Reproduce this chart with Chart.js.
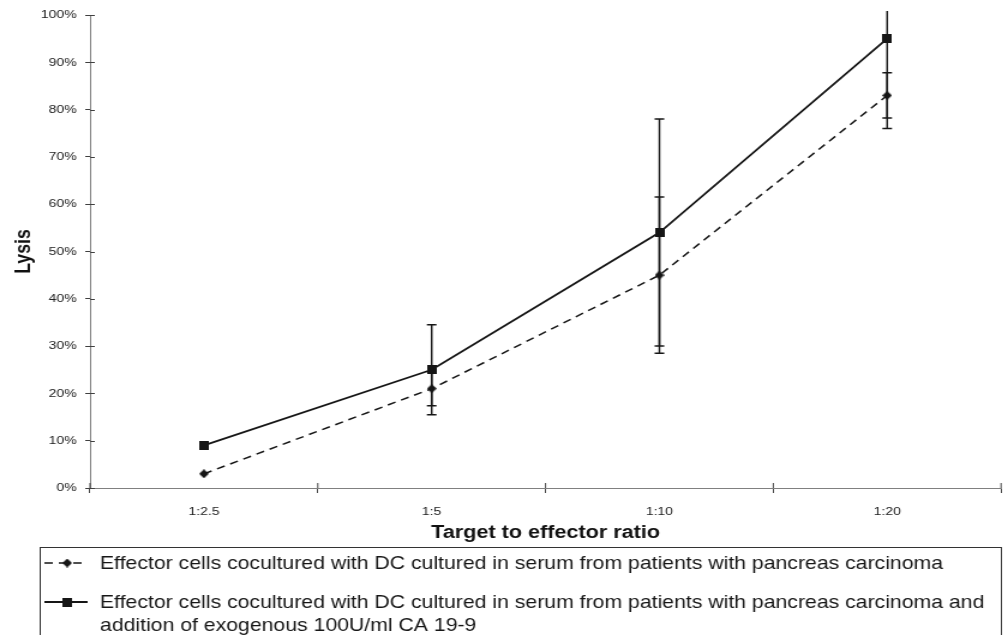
<!DOCTYPE html>
<html>
<head>
<meta charset="utf-8">
<script src="https://cdn.jsdelivr.net/npm/chart.js@4.4.1/dist/chart.umd.min.js"></script>
<style>
  html, body { margin: 0; padding: 0; background: #fff; overflow: hidden; }
  /* the figure is drawn narrow and widened, like the printed original */
  #wrap { width: 840px; height: 635px; transform: scaleX(1.2); transform-origin: 0 0; }
</style>
</head>
<body>
<div id="wrap"><canvas id="lysisChart" width="840" height="635"></canvas></div>
<script>
const ratios = ['1:2.5', '1:5', '1:10', '1:20'];

const serumLysis = [3, 21, 45, 83];
const serumErr = [0, 3.6, 16.5, 4.8];

const ca199Lysis = [9, 25, 54, 95];
const ca199Err = [0, 9.5, 24, 19];

const yTicks = [0, 10, 20, 30, 40, 50, 60, 70, 80, 90, 100];

const serumLabel = 'Effector cells cocultured with DC cultured in serum from patients with pancreas carcinoma';
const ca199Label = 'Effector cells cocultured with DC cultured in serum from patients with pancreas carcinoma and addition of exogenous 100U/ml CA 19-9';

const FONT = '"Liberation Sans", Arial, sans-serif';
const INK = '#161616';

function makeMarker(w, h, draw) {
  const c = document.createElement('canvas');
  c.width = w;
  c.height = h;
  const g = c.getContext('2d');
  g.fillStyle = INK;
  draw(g, w, h);
  return c;
}

const squareMark = makeMarker(8, 9, (g, w, h) => g.fillRect(0, 0, w, h));

const diamondMark = makeMarker(8, 9, (g, w, h) => {
  g.beginPath();
  g.moveTo(w / 2, 0);
  g.lineTo(w, h / 2);
  g.lineTo(w / 2, h);
  g.lineTo(0, h / 2);
  g.closePath();
  g.fill();
});

function wrapText(ctx, text, maxWidth) {
  const words = text.split(' ');
  const lines = [];
  let line = '';
  words.forEach(w => {
    const test = line ? line + ' ' + w : w;
    if (ctx.measureText(test).width > maxWidth && line) {
      lines.push(line);
      line = w;
    } else {
      line = test;
    }
  });
  if (line) lines.push(line);
  return lines;
}

// vertical error bars, cut a little above the plot top
const errorBars = {
  id: 'errorBars',
  afterDatasetsDraw(chart) {
    const {ctx, chartArea, scales: {y}} = chart;
    ctx.save();
    ctx.beginPath();
    ctx.rect(chartArea.left, chartArea.top - 4, chartArea.width, chartArea.height + 4);
    ctx.clip();
    ctx.strokeStyle = INK;
    ctx.lineWidth = 1.5;
    chart.data.datasets.forEach((ds, i) => {
      chart.getDatasetMeta(i).data.forEach((pt, j) => {
        const e = ds.errors[j];
        if (!e) return;
        const top = y.getPixelForValue(ds.data[j] + e);
        const bot = y.getPixelForValue(ds.data[j] - e);
        ctx.beginPath();
        ctx.moveTo(pt.x, top);
        ctx.lineTo(pt.x, bot);
        ctx.moveTo(pt.x - 4, top);
        ctx.lineTo(pt.x + 4, top);
        ctx.moveTo(pt.x - 4, bot);
        ctx.lineTo(pt.x + 4, bot);
        ctx.stroke();
      });
    });
    ctx.restore();
  }
};

// tick marks that cross the axis lines
const innerTicks = {
  id: 'innerTicks',
  beforeDatasetsDraw(chart) {
    const {ctx, chartArea, scales: {x, y}} = chart;
    ctx.save();
    ctx.strokeStyle = '#404040';
    ctx.lineWidth = 1;
    ctx.beginPath();
    y.ticks.forEach(t => {
      const py = Math.round(y.getPixelForValue(t.value)) + 0.5;
      ctx.moveTo(chartArea.left, py);
      ctx.lineTo(chartArea.left + 4, py);
    });
    for (let i = 0; i <= ratios.length; i++) {
      const px = x.getPixelForValue(i - 0.5);
      ctx.moveTo(px, chartArea.bottom);
      ctx.lineTo(px, chartArea.bottom - 5);
    }
    ctx.stroke();
    ctx.restore();
  }
};

// boxed legend under the axis title
const boxLegend = {
  id: 'boxLegend',
  afterDraw(chart) {
    const ctx = chart.ctx;
    const baselines = [569, 608];
    ctx.save();
    ctx.strokeStyle = '#333';
    ctx.lineWidth = 1;
    ctx.strokeRect(33.5, 547.5, 801, 120);
    ctx.font = '17.7px ' + FONT;
    ctx.fillStyle = INK;
    ctx.textBaseline = 'alphabetic';
    chart.data.datasets.forEach((ds, i) => {
      const lines = wrapText(ctx, ds.label, 745);
      lines.forEach((ln, k) => ctx.fillText(ln, 83.3, baselines[i] + k * 22.5));
      const my = baselines[i] - 6;
      ctx.beginPath();
      ctx.setLineDash(ds.borderDash || []);
      ctx.lineWidth = ds.borderWidth;
      ctx.strokeStyle = ds.borderColor;
      ctx.moveTo(37, my);
      ctx.lineTo(73, my);
      ctx.stroke();
      ctx.setLineDash([]);
      const m = ds.pointStyle;
      ctx.drawImage(m, 56 - m.width / 2, my - m.height / 2);
    });
    ctx.restore();
  }
};

new Chart(document.getElementById('lysisChart'), {
  type: 'line',
  data: {
    labels: ratios,
    datasets: [
      {
        label: serumLabel,
        data: serumLysis,
        errors: serumErr,
        borderColor: INK,
        borderWidth: 1.5,
        borderDash: [7, 5],
        pointStyle: diamondMark,
        pointRadius: 4,
        tension: 0
      },
      {
        label: ca199Label,
        data: ca199Lysis,
        errors: ca199Err,
        borderColor: INK,
        borderWidth: 1.8,
        pointStyle: squareMark,
        pointRadius: 4,
        tension: 0
      }
    ]
  },
  options: {
    responsive: false,
    animation: false,
    devicePixelRatio: 1,
    layout: {
      padding: { top: 15, right: 3.3, bottom: 87, left: 0 }
    },
    plugins: {
      legend: { display: false },
      tooltip: { enabled: false }
    },
    scales: {
      x: {
        offset: true,
        afterFit: s => { s.height = 60; },
        grid: {
          offset: true,
          drawOnChartArea: false,
          tickLength: 5,
          tickColor: '#404040'
        },
        border: { color: '#808080', width: 1 },
        ticks: {
          color: '#222',
          padding: 12,
          font: { family: FONT, size: 11.7 }
        },
        title: {
          display: true,
          text: 'Target to effector ratio',
          color: '#111',
          padding: { top: 0, bottom: 4.2 },
          font: { family: FONT, size: 18, weight: 'bold' }
        }
      },
      y: {
        min: 0,
        max: 100,
        afterFit: s => { s.width = 75; },
        afterBuildTicks: s => { s.ticks = yTicks.map(v => ({ value: v })); },
        grid: {
          drawOnChartArea: false,
          tickLength: 4,
          tickColor: '#404040'
        },
        border: { color: '#808080', width: 1 },
        ticks: {
          color: '#222',
          padding: 7,
          font: { family: FONT, size: 11.7 },
          callback: v => v + '%'
        },
        title: {
          display: true,
          text: 'Lysis',
          color: '#111',
          padding: { top: 9.4, bottom: 0 },
          font: { family: FONT, size: 17.7, weight: 'bold' }
        }
      }
    }
  },
  plugins: [innerTicks, errorBars, boxLegend]
});
</script>
</body>
</html>
